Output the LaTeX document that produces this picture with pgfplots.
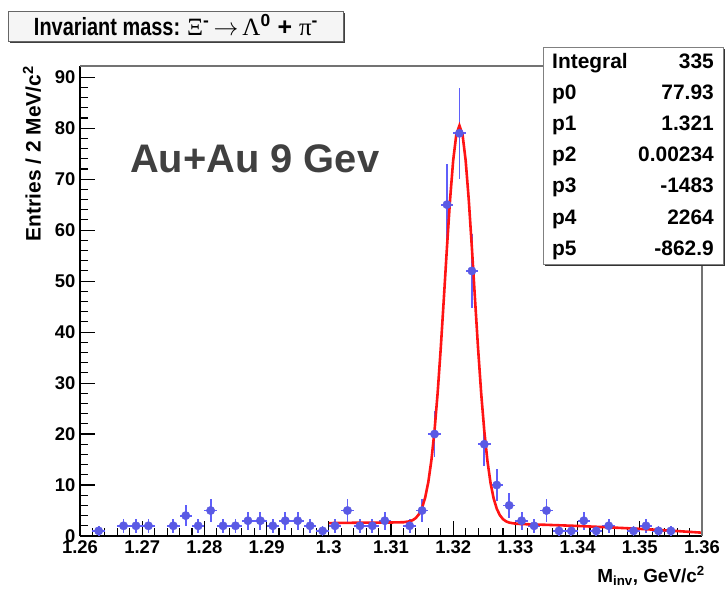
\documentclass[border=0pt]{standalone}
\usepackage{pgfplots}
\pgfplotsset{compat=1.18}
\usepackage{fontspec}
\usepackage{graphicx}
\setmainfont{Liberation Sans}
\newfontfamily\grk{Liberation Serif}
\definecolor{ptblue}{RGB}{90,90,228}
\definecolor{barblue}{RGB}{95,95,250}
\definecolor{fitred}{RGB}{255,20,20}
\definecolor{txtgray}{RGB}{64,64,64}
\begin{document}
\begin{tikzpicture}[x=1bp,y=1bp]
\begin{axis}[
  at={(80bp,56bp)}, anchor=south west,
  scale only axis, width=622bp, height=470bp,
  xmin=1.26, xmax=1.36, ymin=0, ymax=92.2,
  clip=false,
  axis x line*=bottom, axis y line*=left,
  axis line style={line width=1.6bp, black},
  xtick={1.26,1.27,1.28,1.29,1.30,1.31,1.32,1.33,1.34,1.35,1.36},
  xticklabels={1.26,1.27,1.28,1.29,1.3,1.31,1.32,1.33,1.34,1.35,1.36},
  ytick={0,10,20,30,40,50,60,70,80,90},
  minor x tick num=4, minor y tick num=4,
  tick align=inside,
  major tick length=15bp, minor tick length=8bp,
  tick style={black, line width=1.1bp},
  /pgf/number format/assume math mode=true,
  tick label style={font=\bfseries\fontsize{18.5}{18.5}\selectfont},
  xticklabel style={yshift=-1bp},
  yticklabel style={xshift=-1bp},
]
\addplot[only marks, mark=*, mark size=4.2bp,
  mark options={fill=ptblue, draw=ptblue},
  error bars/.cd, x dir=both, x explicit, y dir=both, y explicit,
  error bar style={line width=1.8bp, color=barblue}, error mark=none]
coordinates {
(1.263,1) +- (0.001,1.0)
(1.267,2) +- (0.001,1.414)
(1.269,2) +- (0.001,1.414)
(1.271,2) +- (0.001,1.414)
(1.275,2) +- (0.001,1.414)
(1.277,4) +- (0.001,2.0)
(1.279,2) +- (0.001,1.414)
(1.281,5) +- (0.001,2.236)
(1.283,2) +- (0.001,1.414)
(1.285,2) +- (0.001,1.414)
(1.287,3) +- (0.001,1.732)
(1.289,3) +- (0.001,1.732)
(1.291,2) +- (0.001,1.414)
(1.293,3) +- (0.001,1.732)
(1.295,3) +- (0.001,1.732)
(1.297,2) +- (0.001,1.414)
(1.299,1) +- (0.001,1.0)
(1.301,2) +- (0.001,1.414)
(1.303,5) +- (0.001,2.236)
(1.305,2) +- (0.001,1.414)
(1.307,2) +- (0.001,1.414)
(1.309,3) +- (0.001,1.732)
(1.313,2) +- (0.001,1.414)
(1.315,5) +- (0.001,2.236)
(1.317,20) +- (0.001,4.472)
(1.319,65) +- (0.001,8.062)
(1.321,79) +- (0.001,8.888)
(1.323,52) +- (0.001,7.211)
(1.325,18) +- (0.001,4.243)
(1.327,10) +- (0.001,3.162)
(1.329,6) +- (0.001,2.449)
(1.331,3) +- (0.001,1.732)
(1.333,2) +- (0.001,1.414)
(1.335,5) +- (0.001,2.236)
(1.337,1) +- (0.001,1.0)
(1.339,1) +- (0.001,1.0)
(1.341,3) +- (0.001,1.732)
(1.343,1) +- (0.001,1.0)
(1.345,2) +- (0.001,1.414)
(1.349,1) +- (0.001,1.0)
(1.351,2) +- (0.001,1.414)
(1.353,1) +- (0.001,1.0)
(1.355,1) +- (0.001,1.0)
};
\addplot[fitred, line width=2.6bp] coordinates {
(1.300,2.53)(1.305,2.61)(1.310,2.65)(1.312,2.70)(1.313,2.88)(1.3135,3.11)
(1.314,3.54)(1.3145,4.29)(1.315,5.55)(1.3155,7.56)(1.316,10.59)(1.3165,14.91)
(1.317,20.71)(1.3175,28.09)(1.318,36.88)(1.3185,46.66)(1.319,56.69)(1.3195,66.05)
(1.320,73.72)(1.3205,78.76)(1.321,80.51)(1.3215,78.74)(1.322,73.69)(1.3225,66.00)
(1.323,56.62)(1.3235,46.57)(1.324,36.78)(1.3245,27.97)(1.325,20.58)(1.3255,14.76)
(1.326,10.43)(1.3265,7.38)(1.327,5.36)(1.3275,4.08)(1.328,3.31)(1.3285,2.87)
(1.329,2.63)(1.330,2.42)(1.331,2.34)(1.335,2.19)(1.340,1.97)(1.345,1.70)
(1.350,1.40)(1.355,1.05)(1.360,0.65)
};
\draw[black!55, line width=1.2bp] (rel axis cs:0,1) -- (rel axis cs:1,1) -- (rel axis cs:1,0);
\end{axis}
% title box
\fill[black!75] (10bp,549bp) rectangle (345bp,579bp);
\draw[black!60, fill=black!4, line width=0.9bp] (8bp,551bp) rectangle (343bp,581bp);
\node[anchor=base, inner sep=0pt] at (176bp,556bp) {\fontsize{25}{25}\selectfont\scalebox{0.8}[1]{\bfseries Invariant mass:}\ {\grk Ξ}\textsuperscript{\bfseries -}\,$\rightarrow$\,{\grk Λ}\textsuperscript{\bfseries 0} {\bfseries +} {\grk π}\textsuperscript{\bfseries -}};
% stats box
\fill[black!80] (545bp,326bp) rectangle (725bp,543bp);
\draw[black!50, fill=white, line width=0.9bp] (543bp,328bp) rectangle (723bp,545bp);
\foreach \n/\v [count=\i from 0] in {Integral/335,p0/77.93,p1/1.321,p2/0.00234,p3/-1483,p4/2264,p5/-862.9}{
  \node[anchor=base west, inner sep=0pt] at (552bp,{523-31*\i}) {\bfseries\fontsize{21}{21}\selectfont \n};
  \node[anchor=base east, inner sep=0pt] at (714bp,{523-31*\i}) {\bfseries\fontsize{21}{21}\selectfont \v};
}
% annotation
\node[anchor=base west, inner sep=0pt, text=txtgray] at (130bp,419bp) {\bfseries\fontsize{40}{40}\selectfont Au+Au 9 Gev};
% axis labels
\node[rotate=90, anchor=east, inner sep=0pt] at (32bp,526bp) {\bfseries\fontsize{21}{21}\selectfont Entries / 2 MeV/c\textsuperscript{2}};
\node[anchor=base east, inner sep=0pt] at (705bp,10bp) {\bfseries\fontsize{19}{19}\selectfont M\textsubscript{inv}, GeV/c\textsuperscript{2}};
\pgfresetboundingbox
\path[use as bounding box] (0,0) rectangle (726bp,592bp);
\end{tikzpicture}
\end{document}
